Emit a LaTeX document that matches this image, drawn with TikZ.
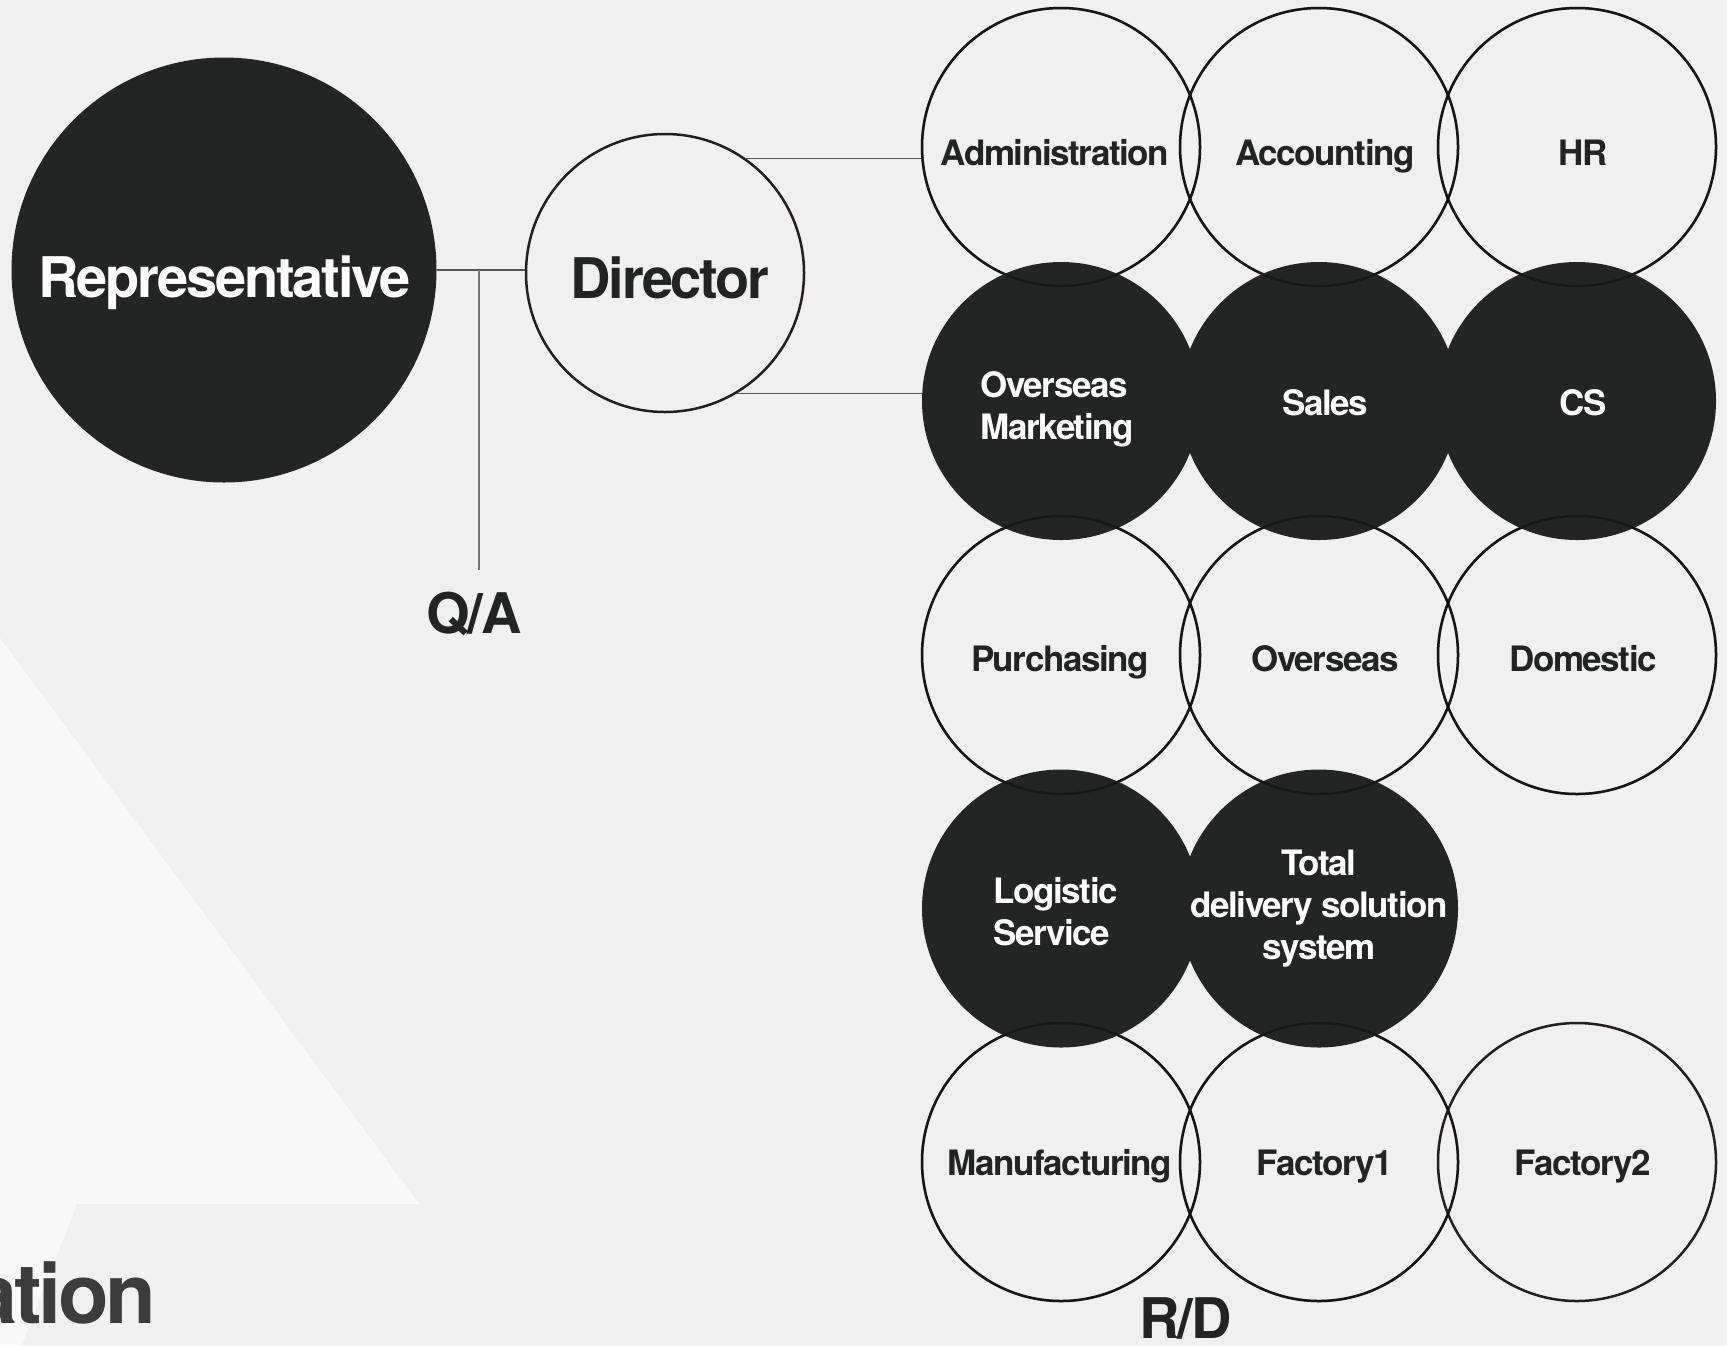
\documentclass[tikz,border=0pt]{standalone}
\usepackage{fontspec}
\setmainfont{TeX Gyre Heros}[LetterSpace=-4]
\definecolor{bgc}{HTML}{F0F0F0}
\definecolor{pale}{HTML}{F9F9F9}
\definecolor{dark}{HTML}{232524}
\definecolor{ink}{HTML}{222423}
\definecolor{ringc}{HTML}{231F20}
\definecolor{linegray}{HTML}{555555}
\definecolor{qagray}{HTML}{777777}
\definecolor{orggray}{HTML}{3C3C3C}
\begin{document}
\begin{tikzpicture}[x=0.5pt,y=-0.5pt,
  ring/.style={circle, draw=ringc, line width=1.25pt, minimum size=139pt, inner sep=0pt},
  disc/.style={circle, fill=dark, minimum size=139pt, inner sep=0pt},
  ghost/.style={draw=black, draw opacity=0.35, line width=1.25pt},
  lbl/.style={font=\fontsize{17.5}{21}\selectfont\bfseries, text=ink, inner sep=0pt},
  wlbl/.style={lbl, text=white},
  big/.style={font=\fontsize{28}{34}\selectfont\bfseries, text=ink, inner sep=0pt},
  conn/.style={draw=linegray, line width=0.6pt},
  qaconn/.style={draw=qagray, line width=0.6pt}]
\useasboundingbox (0,0) rectangle (1727,1345);
\clip (0,0) rectangle (1727,1345);
\fill[bgc] (0,0) rectangle (1727,1345);
\fill[pale] (0,638) -- (419,1204) -- (77,1204) -- (22,1345) -- (0,1345) -- cycle;
\node[font=\fontsize{41.5}{50}\selectfont\bfseries, text=orggray, inner sep=0pt, anchor=base east] (org) at (157,1323) {ation};

% left part
\node[disc, minimum size=212.5pt] (rep) at (224,270) {};
\node[big, text=white, anchor=base] (replbl) at (224.5,297) {Representative};
\node[ring] (dir) at (665,273) {};
\node[big, anchor=base] (dirlbl) at (670,298) {Director};
\coordinate (qaend) at (479,570);
\draw[conn] (rep.east) -- (rep.east -| dir.west);
\draw[qaconn] (rep.east -| qaend) -- (qaend);
\node[big, anchor=base] (qa) at (474,633) {Q/A};

% grid of rings
\node[ring] (adm) at (1061,147) {};
\node[ring] (acc) at (1319,147) {};
\node[ring] (hr)  at (1577,147) {};
\node[ring] (pur) at (1061,655) {};
\node[ring] (ovs) at (1319,655) {};
\node[ring] (dom) at (1577,655) {};
\node[ring] (man) at (1061,1162) {};
\node[ring] (fa)  at (1319,1162) {};
\node[ring] (fb)  at (1577,1162) {};
% dark discs
\node[disc] (om)  at (1061,401) {};
\node[disc] (sal) at (1319,401) {};
\node[disc] (cs)  at (1577,401) {};
\node[disc] (logi) at (1061,908.5) {};
\node[disc] (tds) at (1319,908.5) {};
% faint ring edges showing through the discs
\foreach \r in {adm,acc,hr,pur,ovs,dom,man,fa}
  \draw[ghost] (\r.center) circle[radius=139];

% connectors from director
\draw[conn] (dir.55) -- (dir.55 -| adm.west);
\draw[conn] (dir.-59) -- (dir.-59 -| om.west);

% labels
\node[lbl, anchor=base] (tadm) at (1055,165) {Administration};
\node[lbl, anchor=base] (tacc) at (1325,165) {Accounting};
\node[lbl, anchor=base] (thr)  at (1583,165) {HR};
\node[wlbl, anchor=north west, align=left] (tom) at (980,371) {Overseas\\Marketing};
\node[wlbl, anchor=base] (tsal) at (1325,415) {Sales};
\node[wlbl, anchor=base] (tcs)  at (1583,415) {CS};
\node[lbl, anchor=base] (tpur) at (1060,671) {Purchasing};
\node[lbl, anchor=base] (tovs) at (1325,671) {Overseas};
\node[lbl, anchor=base] (tdom) at (1583,671) {Domestic};
\node[wlbl, anchor=north west, align=left] (tlog) at (993,877) {Logistic\\Service};
\node[wlbl, anchor=north, align=center] (ttds) at (1319,850) {Total\\delivery solution\\system};
\node[lbl, anchor=base] (tman) at (1060,1175) {Manufacturing};
\node[lbl, anchor=base] (tfa)  at (1325,1175) {Factory1};
\node[lbl, anchor=base] (tfb)  at (1583,1175) {Factory2};
\node[big, anchor=base] (rd) at (1185.5,1338) {R/D};
\end{tikzpicture}
\end{document}
